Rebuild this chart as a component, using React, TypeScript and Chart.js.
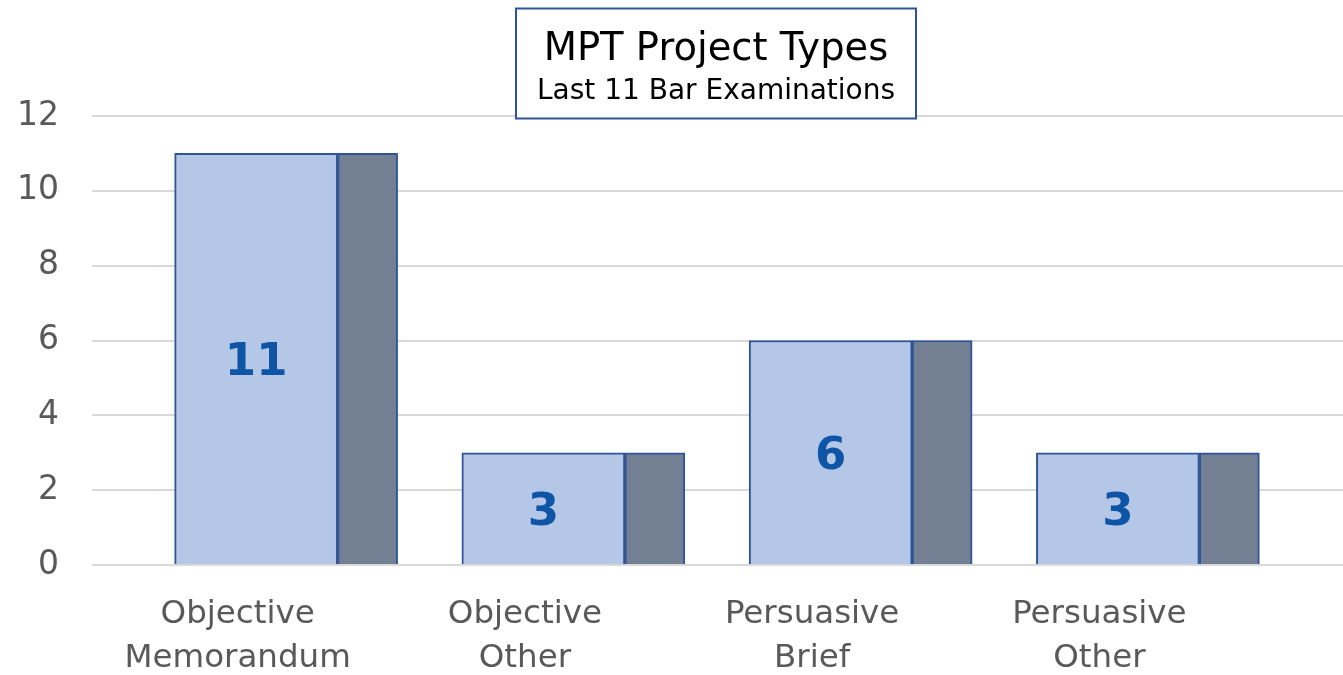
import React, { useEffect, useRef } from "react";
import { Chart, registerables } from "chart.js";

Chart.register(...registerables);

const categories: string[][] = [
  ["Objective", "Memorandum"],
  ["Objective", "Other"],
  ["Persuasive", "Brief"],
  ["Persuasive", "Other"],
];
const counts: number[] = [11, 3, 6, 3];
const yTicks: number[] = [0, 2, 4, 6, 8, 10, 12];
const titleText = "MPT Project Types";
const subtitleText = "Last 11 Bar Examinations";

const FONT = "'DejaVu Sans', Verdana, sans-serif";
const FRONT = "#B4C7E7";
const SIDE = "#737F93";
const EDGE = "#2F5597";
const GRID = "#D9D9D9";
const TEXT = "#595959";
const LABEL = "#0F55A5";

const valueLabels = {
  id: "valueLabels",
  afterDatasetsDraw(chart: any) {
    const meta = chart.getDatasetMeta(0);
    const ctx = chart.ctx;
    ctx.save();
    ctx.font = `bold 45px ${FONT}`;
    ctx.fillStyle = LABEL;
    ctx.textAlign = "center";
    ctx.textBaseline = "middle";
    meta.data.forEach((bar: any, i: number) => {
      const v = chart.data.datasets[0].data[i];
      ctx.fillText(String(v), bar.x, (bar.y + bar.base) / 2 + 5);
    });
    ctx.restore();
  },
};

const titleBox = {
  id: "titleBox",
  afterDraw(chart: any) {
    const ctx = chart.ctx;
    const x0 = 516, y0 = 8.5, w = 400, h = 110;
    const cx = x0 + w / 2;
    ctx.save();
    ctx.fillStyle = "#FFFFFF";
    ctx.fillRect(x0, y0, w, h);
    ctx.strokeStyle = EDGE;
    ctx.lineWidth = 2;
    ctx.strokeRect(x0, y0, w, h);
    ctx.fillStyle = "#000000";
    ctx.textAlign = "center";
    ctx.textBaseline = "alphabetic";
    ctx.font = `38.5px ${FONT}`;
    ctx.fillText(titleText, cx, 60);
    ctx.font = `28px ${FONT}`;
    ctx.fillText(subtitleText, cx, 99);
    ctx.restore();
  },
};

export default function App() {
  const ref = useRef<HTMLCanvasElement | null>(null);

  useEffect(() => {
    if (!ref.current) return;
    const chart = new Chart(ref.current, {
      type: "bar",
      data: {
        labels: categories,
        datasets: [
          {
            data: counts,
            backgroundColor: FRONT,
            borderColor: EDGE,
            borderWidth: 2,
            barThickness: 163,
            clip: false,
          },
          {
            data: counts,
            backgroundColor: SIDE,
            borderColor: EDGE,
            borderWidth: 2,
            barThickness: 60,
            clip: false,
          },
        ],
      },
      options: {
        animation: false,
        responsive: true,
        maintainAspectRatio: false,
        layout: { padding: { top: 116, left: 0, right: 0, bottom: 0 } },
        plugins: {
          legend: { display: false },
          tooltip: { enabled: false },
          title: { display: false },
        },
        scales: {
          x: {
            type: "category",
            offset: true,
            grid: { display: false, drawTicks: false },
            border: { display: false },
            ticks: {
              font: { family: FONT, size: 32.5, lineHeight: 1.37 },
              color: TEXT,
              labelOffset: -100,
              padding: 27,
              maxRotation: 0,
              autoSkip: false,
            },
            afterFit: (s: any) => {
              s.height = 110;
            },
          },
          y: {
            min: 0,
            max: 12,
            afterBuildTicks: (s: any) => {
              s.ticks = yTicks.map((v) => ({ value: v }));
            },
            grid: {
              color: GRID,
              lineWidth: 2,
              drawTicks: true,
              tickLength: 102,
            },
            border: { display: false },
            ticks: {
              font: { family: FONT, size: 33 },
              color: TEXT,
              padding: 33,
            },
            afterFit: (s: any) => {
              s.width = 194;
            },
          },
        },
      },
      plugins: [valueLabels, titleBox],
    });
    return () => chart.destroy();
  }, []);

  return (
    <div style={{ position: "fixed", left: 0, top: 0, width: 1343, height: 675, background: "#fff" }}>
      <canvas ref={ref} />
    </div>
  );
}
